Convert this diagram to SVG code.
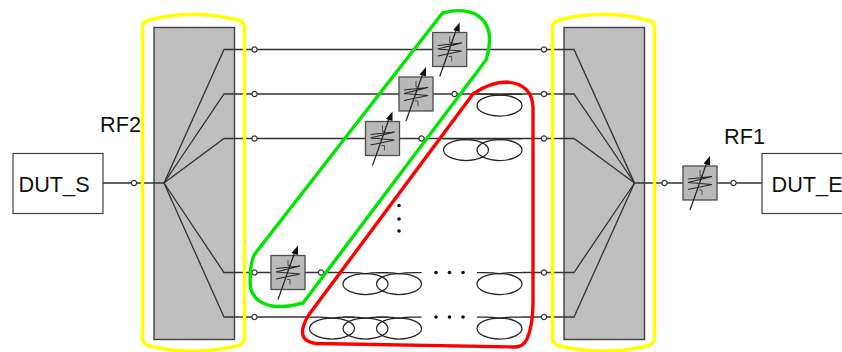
<svg xmlns="http://www.w3.org/2000/svg" xmlns:xlink="http://www.w3.org/1999/xlink" width="842" height="352" viewBox="0 0 842 352">
<style>
.panel{fill:#bfbfbf;stroke:#404040;stroke-width:1.4}
.wire{fill:none;stroke:#333;stroke-width:1.3}
.thin{fill:none;stroke:#262626;stroke-width:1.25}
.fine{fill:none;stroke:#333;stroke-width:.8}
.dot{fill:#fff;stroke:#333;stroke-width:1.2}
.box{fill:#fff;stroke:#404040;stroke-width:1.2}
.lbl{font-family:"Liberation Sans",Arial,sans-serif;font-size:21.7px;fill:#111}
.ring{fill:none;stroke-width:3.4}
.bk{fill:#111}
</style>
<defs>
<g id="att">
<rect x="-17" y="-17" width="34" height="34" fill="#b9b9b9" stroke="#4d4d4d" stroke-width="1.3"/>
<path d="M-12 -4L12 -6.500L-12 -.500L12 1.500L-12 6.500" class="thin"/>
<path d="M0 -13V-7H3M-1 7H2V12" class="fine"/>
<path d="M-10 27L7 -21" class="thin"/>
<path d="M10 -27L3.500 -19.500L10 -17.500Z" class="bk"/>
</g>
<g id="coil">
<ellipse cx="22.500" cy="11.500" rx="22.500" ry="10.500" class="thin"/>
<path d="M0 0H8Q17 0 22.500 1.200Q28 0 37 0H45" class="thin"/>
</g>
<circle id="pt" r="2.600" class="dot"/>
</defs>

<g id="splitter-left"><rect x="154" y="27.500" width="80.500" height="312" class="panel"/></g>
<g id="splitter-right"><rect x="564" y="27.500" width="80.500" height="312" class="panel"/></g>

<g id="connectors">
<path class="wire" d="M103 183H164L224 49.500H574L634.500 183H683.500M717 183H762"/>
<path class="wire" d="M164 183L224 94H574L634.500 183"/>
<path class="wire" d="M164 183L224 138.500H574L634.500 183"/>
<path class="wire" d="M164 183L224 272.500H343M522 272.500H574L634.500 183"/>
<path class="wire" d="M164 183L224 317H309.500M522 317H574L634.500 183"/>
</g>

<g id="coils">
<use xlink:href="#coil" x="343" y="272.500"/>
<use xlink:href="#coil" x="376.500" y="272.500"/>
<use xlink:href="#coil" x="477" y="272.500"/>
<use xlink:href="#coil" x="309.500" y="317"/>
<use xlink:href="#coil" x="343" y="317"/>
<use xlink:href="#coil" x="376.500" y="317"/>
<use xlink:href="#coil" x="477" y="317"/>
<use xlink:href="#coil" x="477" y="94"/>
<use xlink:href="#coil" x="443.500" y="138.500"/>
<use xlink:href="#coil" x="477" y="138.500"/>
</g>

<g id="junctions">
<use xlink:href="#pt" x="134" y="183"/>
<use xlink:href="#pt" x="254.500" y="49.500"/>
<use xlink:href="#pt" x="254.500" y="94"/>
<use xlink:href="#pt" x="254.500" y="138.500"/>
<use xlink:href="#pt" x="254.500" y="272.500"/>
<use xlink:href="#pt" x="254.500" y="317"/>
<use xlink:href="#pt" x="544" y="49.500"/>
<use xlink:href="#pt" x="544" y="94"/>
<use xlink:href="#pt" x="544" y="138.500"/>
<use xlink:href="#pt" x="544" y="272.500"/>
<use xlink:href="#pt" x="544" y="317"/>
<use xlink:href="#pt" x="454.500" y="94"/>
<use xlink:href="#pt" x="421.500" y="138.500"/>
<use xlink:href="#pt" x="321" y="272.500"/>
<use xlink:href="#pt" x="664.500" y="183"/>
<use xlink:href="#pt" x="733.500" y="183"/>
</g>

<g id="attenuators">
<use id="att1" xlink:href="#att" x="449.700" y="49.500"/>
<use id="att2" xlink:href="#att" x="416" y="94"/>
<use id="att3" xlink:href="#att" x="382.500" y="138.500"/>
<use id="att4" xlink:href="#att" x="288" y="272.500"/>
<use id="att5" xlink:href="#att" x="700" y="183"/>
</g>

<g id="ellipsis">
<circle class="bk" cx="399" cy="205.500" r="1.800"/><circle class="bk" cx="399" cy="219" r="1.800"/><circle class="bk" cx="399" cy="231" r="1.800"/>
<circle class="bk" cx="436" cy="272.500" r="1.800"/><circle class="bk" cx="449.500" cy="272.500" r="1.800"/><circle class="bk" cx="463" cy="272.500" r="1.800"/>
<circle class="bk" cx="436" cy="317" r="1.800"/><circle class="bk" cx="449.500" cy="317" r="1.800"/><circle class="bk" cx="463" cy="317" r="1.800"/>
</g>

<g id="dut-s"><rect x="13" y="153.500" width="90" height="60" class="box"/><text x="18.500" y="191.500" class="lbl">DUT_S</text></g>
<g id="dut-e"><rect x="762" y="153.500" width="90" height="60" class="box"/><text x="771.500" y="191.500" class="lbl">DUT_E</text></g>
<g id="rf2"><text x="100" y="132" class="lbl">RF2</text></g>
<g id="rf1"><text x="724" y="143.500" class="lbl">RF1</text></g>

<g id="rings">
<path id="yellow-left" class="ring" stroke="#ffff00" d="M142.500 27Q142.500 22 148 20.500Q193 8 239 20.500Q244.500 22 244.500 27V338Q244.500 343 239 345.500Q193 357 148 345.500Q142.500 343 142.500 338Z"/>
<path id="yellow-right" class="ring" stroke="#ffff00" d="M552.500 27Q552.500 22 558 20.500Q603 8 649 20.500Q654.500 22 654.500 27V338Q654.500 343 649 345.500Q603 357 558 345.500Q552.500 343 552.500 338Z"/>
<path id="green" class="ring" stroke="#00e600" d="M442.500 13Q463 7.500 476 14.500Q490.500 23 489.500 42Q489 52 486 60L303 303Q285 308 272 306Q255 303 250.500 288Q249 268 254 255Z"/>
<path id="red" class="ring" stroke="#ff0000" d="M473 94Q490 82 507 82Q532 84 533 107V303Q533 325 527 339Q523 347 515 347L317 343.500Q302 342 302.500 331Q303 325 308 316L473 94Z"/>
</g>
</svg>
